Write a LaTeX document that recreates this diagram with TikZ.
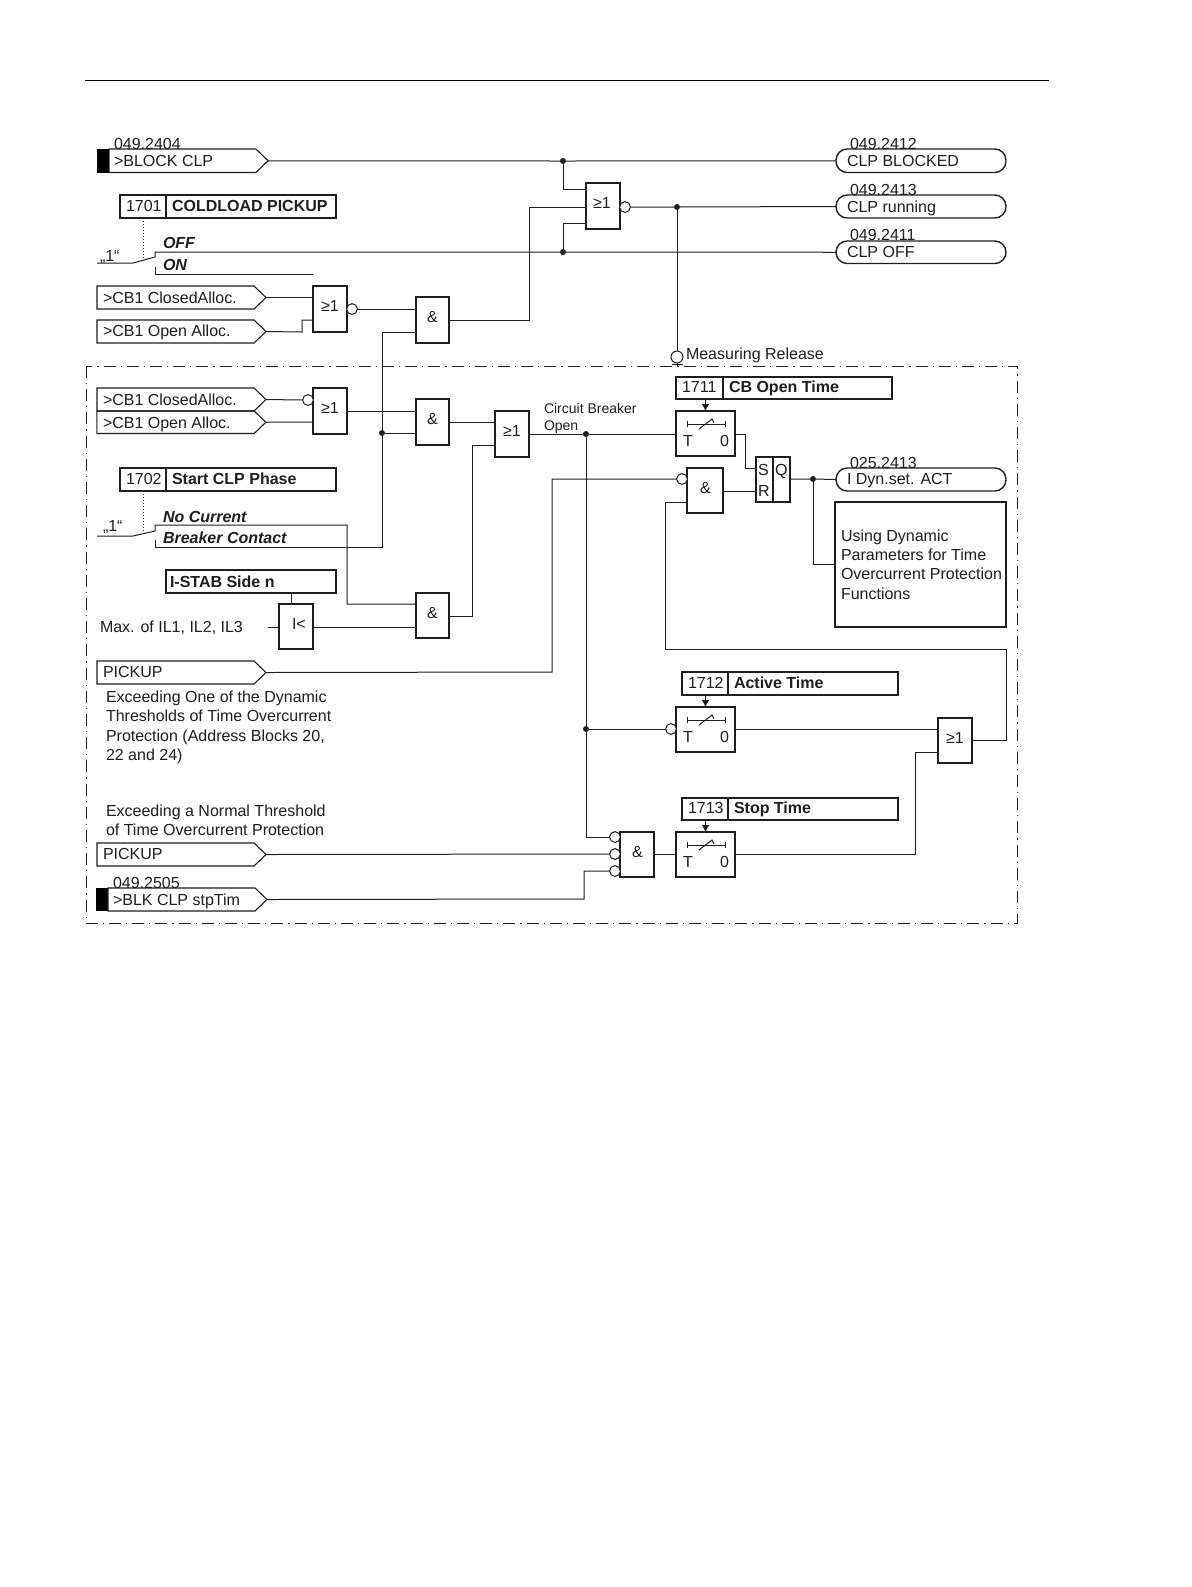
\documentclass[tikz,border=0pt]{standalone}
\usepackage{fontspec}
\setmainfont{Liberation Sans}
\usetikzlibrary{fit,shapes.symbols,arrows.meta}
\definecolor{ink}{HTML}{1E1E1E}
\tikzset{
  wire/.style={draw=ink,line width=0.5pt},
  gate/.style={draw=ink,line width=0.55pt,inner sep=0pt,outer sep=0pt},
  parambox/.style={draw=ink,line width=0.9pt,inner sep=0pt,outer sep=0pt},
  pill/.style={draw=ink,line width=0.7pt,rounded corners=5.6pt,inner sep=0pt,outer sep=0pt},
  inpt/.style={signal,signal to=east,signal from=nowhere,signal pointer angle=88,draw=ink,line width=0.55pt,inner sep=0pt,outer sep=0pt},
  txt/.style={anchor=base west,inner sep=0pt,outer sep=0pt,text=ink,font=\fontsize{8}{9.65}\selectfont},
  blocktxt/.style={anchor=north west,align=left,inner sep=0pt,outer sep=0pt,text=ink,font=\fontsize{8}{9.65}\selectfont},
  small/.style={txt,font=\fontsize{7}{8.4}\selectfont},
  boldtxt/.style={txt,font=\fontsize{8}{9.65}\selectfont\bfseries},
  bitxt/.style={txt,font=\fontsize{8}{9.65}\selectfont\bfseries\itshape},
  dot/.style={circle,fill=ink,inner sep=0pt,outer sep=0pt,minimum size=3pt},
  invc/.style={circle,draw=ink,fill=white,line width=0.5pt,inner sep=0pt,outer sep=0pt,minimum size=5.4pt},
  border/.style={draw=ink,line width=0.5pt,dash pattern=on 6pt off 2.5pt on 0.6pt off 2.5pt},
  dotline/.style={draw=ink,line width=0.5pt,densely dotted},
  arr/.style={draw=ink,line width=0.6pt,-{Latex[length=3.5pt,width=4pt]}},
}
% name, x1, y1, x2, y2, label, dx
\newcommand{\gatebox}[7]{\node[gate,fit={(#2,#3)(#4,#5)}] (#1) {};\node[txt] (#1-t) at ({#2+#7},{#3+25}) {#6};}
% name, x0, xtip, ytop, ybot
\newcommand{\inputbox}[5]{\node[inpt,minimum width={(#3-#2)*0.5pt},minimum height={(#5-#4)*0.5pt}] (#1) at ({(#2+#3)/2-6},{(#4+#5)/2}) {};}
% name, x1, xdiv, x2, y1, y2, number, title
\newcommand{\parambox}[8]{\node[parambox,fit={(#2,#5)(#3,#6)}] (#1n) {};\node[parambox,fit={(#3,#5)(#4,#6)}] (#1t) {};\node[txt] (#1a) at ({#2+6},{#6-7}) {#7};\node[boldtxt] (#1b) at ({#3+6},{#6-7}) {#8};}
% name, x, y
\newcommand{\timerbox}[3]{\node[gate,fit={(#2,#3)({#2+59},{#3+45})}] (#1) {};
  \draw[wire] ({#2+11},{#3+13}) -- ({#2+49},{#3+13});
  \draw[wire] ({#2+11},{#3+10}) -- ({#2+11},{#3+16});
  \draw[wire] ({#2+49},{#3+10}) -- ({#2+49},{#3+16});
  \draw[wire] ({#2+23},{#3+18}) -- ({#2+36},{#3+8}) -- ({#2+38},{#3+12});
  \node[txt] (#1-T) at ({#2+7},{#3+35}) {T};
  \node[txt] (#1-0) at ({#2+44},{#3+35}) {0};}
\begin{document}
\begin{tikzpicture}[x=0.5pt,y=-0.5pt]
\useasboundingbox (0,0) rectangle (1191,1587);
\fill[white] (0,0) rectangle (1191,1587);
% top rule
\coordinate (ruleL) at (85,80);\coordinate (ruleR) at (1049,80);
\draw[draw=black,line width=0.5pt] (ruleL) -- (ruleR);
% dashed frame
\coordinate (frA) at (86,366);\coordinate (frB) at (1017,923);
\draw[border] (frA) rectangle (frB);
% inputs
\fill[black] (97,149) rectangle (109,172.5);
\inputbox{inBlock}{109}{268}{149}{172.5}
\node[txt] (lbA) at (114,149) {049.2404};
\node[txt] (txA) at (114,166) {>BLOCK CLP};
\inputbox{inCa}{97}{266}{286}{309}
\node[txt] (txB) at (103,303) {>CB1 ClosedAlloc.};
\inputbox{inOa}{97}{266}{320}{343}
\node[txt] (txC) at (103,336) {>CB1 Open Alloc.};
\inputbox{inCb}{97}{266}{388}{411}
\node[txt] (txD) at (103,405) {>CB1 ClosedAlloc.};
\inputbox{inOb}{97}{266}{411}{433.5}
\node[txt] (txE) at (103,428) {>CB1 Open Alloc.};
\inputbox{inPa}{97}{266}{661}{684}
\node[txt] (txF) at (103,677) {PICKUP};
\inputbox{inPb}{97}{266}{843}{866}
\node[txt] (txG) at (103,859) {PICKUP};
\fill[black] (96,888) rectangle (108,911);
\inputbox{inBlk}{108}{267}{888}{911}
\node[txt] (lbB) at (113,888) {049.2505};
\node[txt] (txH) at (113,905) {>BLK CLP stpTim};
% outputs
\node[pill,fit={(836,149)(1006,172.5)}] (outA) {};
\node[txt] (lbC) at (850,149) {049.2412};
\node[txt] (txI) at (847,166) {CLP BLOCKED};
\node[pill,fit={(836,195)(1006,218)}] (outB) {};
\node[txt] (lbD) at (850,195) {049.2413};
\node[txt] (txJ) at (847,212) {CLP running};
\node[pill,fit={(836,241)(1006,263.5)}] (outC) {};
\node[txt] (lbE) at (850,240) {049.2411};
\node[txt] (txK) at (847,257) {CLP OFF};
\node[pill,fit={(836,468)(1006,491)}] (outD) {};
\node[txt] (lbF) at (850,468) {025.2413};
\node[txt] (txL) at (847,484) {I Dyn.set. ACT};
% note box
\node[parambox,line width=0.8pt,fit={(835,502)(1006,627)}] (note) {};
\node[blocktxt] (noteT) at (841,529.5) {Using Dynamic\\Parameters for Time\\Overcurrent Protection\\Functions};
% parameter boxes
\parambox{pa}{120}{166}{336}{195}{218}{1701}{COLDLOAD PICKUP}
\parambox{pb}{120}{166}{336}{468}{491}{1702}{Start CLP Phase}
\parambox{pc}{676}{723}{892}{377}{399}{1711}{CB Open Time}
\parambox{pd}{682}{728}{898}{672}{695}{1712}{Active Time}
\parambox{pe}{682}{728}{898}{798}{820}{1713}{Stop Time}
\node[parambox,fit={(166,570)(336,593)}] (pf) {};
\node[boldtxt] (pfT) at (170,587) {I-STAB Side n};
% gates
\gatebox{gA}{586}{183}{620}{229}{≥1}{7}
\gatebox{gB}{313}{286}{347}{332}{≥1}{8}
\gatebox{gC}{416}{297}{449}{343}{\&}{11}
\gatebox{gD}{313}{388}{347}{434}{≥1}{8}
\gatebox{gE}{416}{399}{449}{445}{\&}{11}
\gatebox{gF}{495}{411}{529}{457}{≥1}{8}
\gatebox{gG}{416}{593}{449}{638}{\&}{11}
\gatebox{gH}{687}{468}{723}{513}{\&}{13}
\gatebox{gI}{938}{718}{972}{763}{≥1}{8}
\gatebox{gJ}{620}{832}{654}{877}{\&}{12}
\gatebox{gK}{279}{604}{313}{649}{I<}{13}
% SR flip-flop
\node[gate,fit={(756,457)(773,502)}] (srL) {};
\node[gate,fit={(773,457)(790,502)}] (srR) {};
\node[txt] (srS) at (758,475) {S};
\node[txt] (srQ) at (775,475) {Q};
\node[txt] (srT) at (758,496) {R};
% timers
\timerbox{tA}{676}{411}
\timerbox{tB}{676}{707}
\timerbox{tC}{676}{832}
% other texts
\node[bitxt] (off) at (163,248) {OFF};
\node[bitxt] (on) at (163,270) {ON};
\node[bitxt] (nc) at (163,522) {No Current};
\node[bitxt] (bc) at (163,543) {Breaker Contact};
\node[txt] (one1) at (100,261) {„1“};
\node[txt] (one2) at (103,531) {„1“};
\node[txt] (maxT) at (100,632) {Max. of IL1, IL2, IL3};
\node[blocktxt] (dynT) at (106,691) {Exceeding One of the Dynamic\\Thresholds of Time Overcurrent\\Protection (Address Blocks 20,\\22 and 24)};
\node[blocktxt] (normT) at (106,804.5) {Exceeding a Normal Threshold\\of Time Overcurrent Protection};
\node[txt] (relT) at (686,359) {Measuring Release};
\node[small] (cbA) at (544,413) {Circuit Breaker};
\node[small] (cbB) at (544,430) {Open};
% junctions
\node[dot] (jA) at (563,161) {};
\node[dot] (jB) at (563,252) {};
\node[dot] (jC) at (677,207) {};
\node[dot] (jD) at (382,433) {};
\node[dot] (jE) at (586,434) {};
\node[dot] (jF) at (586,729) {};
\node[dot] (jG) at (813,479) {};
% inversion circles
\node[invc] (cA) at (625,207) {};
\node[invc] (cB) at (352,309) {};
\node[invc] (cC) at (308,400) {};
\node[invc] (cD) at (682,479) {};
\node[invc] (cE) at (671,729) {};
\node[invc] (cF) at (615,837) {};
\node[invc] (cG) at (615,854) {};
\node[invc] (cH) at (615,871) {};
\node[invc,minimum size=6pt] (cR) at (677,357) {};
% ports and bends
\coordinate (pA1) at (586,189);\coordinate (pA2) at (586,207);\coordinate (pA3) at (586,223);
\coordinate (oC) at (449,320);\coordinate (bA) at (529,320);\coordinate (bB) at (529,207);
\coordinate (swA0) at (97,263);\coordinate (swA1) at (133,263);\coordinate (swA2) at (155,257);\coordinate (swA3) at (155,252);
\coordinate (swA4) at (155,267);\coordinate (swA5) at (155,274);\coordinate (swA6) at (313,274);\coordinate (swAd) at (143,259);
\coordinate (pB2a) at (302,332);\coordinate (pB2b) at (302,320);\coordinate (pB2) at (313,320);\coordinate (pB1) at (313,297.5);
\coordinate (pC1) at (416,309);\coordinate (pC2) at (416,332);\coordinate (bC) at (382,332);
\coordinate (swB0) at (97,536);\coordinate (swB1) at (133,536);\coordinate (swB2) at (155,531);\coordinate (swB3) at (155,525);
\coordinate (swB4) at (155,540);\coordinate (swB5) at (155,547);\coordinate (bD) at (382,547);\coordinate (swBd) at (143,532);
\coordinate (bE) at (347,525);\coordinate (pG1) at (416,604);\coordinate (bE2) at (347,604);
\coordinate (pD2) at (313,422);\coordinate (oD) at (347,411);\coordinate (pE1) at (416,411);\coordinate (pE2) at (416,433);
\coordinate (oE) at (449,422);\coordinate (pF1) at (495,422);\coordinate (pF2) at (495,445);\coordinate (bF) at (472,445);
\coordinate (oG) at (449,616);\coordinate (bG) at (472,616);\coordinate (oF) at (529,434);\coordinate (pTA) at (676,434);
\coordinate (oTA) at (735,434);\coordinate (bH) at (745,434);\coordinate (bI) at (745,468);\coordinate (pS) at (756,468);
\coordinate (oH) at (723,491);\coordinate (pR) at (756,491);\coordinate (oQ) at (790,479);
\coordinate (bJ) at (813,564);\coordinate (noteL) at (835,564);
\coordinate (kA) at (268,627);\coordinate (pKi) at (279,627);\coordinate (oK) at (313,627);\coordinate (pG2) at (416,627);
\coordinate (sK) at (291,593);\coordinate (sKb) at (291,604);
\coordinate (bP) at (552,672);\coordinate (bQ) at (552,479);
\coordinate (pH2) at (687,502);\coordinate (bR) at (665,502);\coordinate (bS) at (665,649);\coordinate (bT) at (1006,649);\coordinate (bU) at (1006,740);\coordinate (oI) at (972,740);
\coordinate (oTB) at (735,729);\coordinate (pI1) at (938,729);\coordinate (pI2) at (938,752);\coordinate (bV) at (915,752);\coordinate (bW) at (915,854);\coordinate (oTC) at (735,854);
\coordinate (bX) at (586,837);\coordinate (bY) at (584,899);\coordinate (bZ) at (584,871);
\coordinate (oJ) at (654,854);\coordinate (pTC) at (676,854);
\coordinate (rB) at (677,366);\coordinate (rC) at (672,364);\coordinate (rD) at (683,364);
% connectors
\draw[wire] (inBlock.east) -- (jA) -- (outA.west);
\draw[wire] (jA) |- (pA1);
\draw[wire] (jB) |- (pA3);
\draw[wire] (oC) -- (bA) -- (bB) -- (pA2);
\draw[wire] (cA.east) -- (jC) -- (outB.west);
\draw[wire] (jC) -- (cR.north);
\draw[wire] (cR.south) -- (rB);
\draw[wire] (rC) -- (rD);
\draw[wire] (swA0) -- (swA1) -- (swA2);
\draw[wire] (swA2) -- (swA3) -- (jB) -- (outC.west);
\draw[wire] (swA4) -- (swA5) -- (swA6);
\draw[dotline] (pan.south) -- (swAd);
\draw[wire] (inCa.east) -- (pB1);
\draw[wire] (inOa.east) -- (pB2a) -- (pB2b) -- (pB2);
\draw[wire] (cB.east) -- (pC1);
\draw[wire] (pC2) -- (bC) -- (jD) -- (bD) -- (swB5) -- (swB4);
\draw[wire] (inCb.east) -- (cC.west);
\draw[wire] (inOb.east) -- (pD2);
\draw[wire] (oD) -- (pE1);
\draw[wire] (jD) -- (pE2);
\draw[wire] (oE) -- (pF1);
\draw[wire] (oG) -- (bG) -- (bF) -- (pF2);
\draw[wire] (swB0) -- (swB1) -- (swB2) -- (swB3) -- (bE) -- (bE2) -- (pG1);
\draw[dotline] (pbn.south) -- (swBd);
\draw[wire] (kA) -- (pKi);
\draw[wire] (sK) -- (sKb);
\draw[wire] (oK) -- (pG2);
\draw[wire] (oF) -- (jE) -- (pTA);
\draw[wire] (jE) -- (jF) -- (bX) -- (cF.west);
\draw[wire] (jF) -- (cE.west);
\draw[wire] (oTA) -- (bH) -- (bI) -- (pS);
\draw[wire] (oH) -- (pR);
\draw[wire] (oQ) -- (jG) -- (outD.west);
\draw[wire] (jG) -- (bJ) -- (noteL);
\draw[wire] (inPa.east) -- (bP) -- (bQ) -- (cD.west);
\draw[wire] (pH2) -- (bR) -- (bS) -- (bT) -- (bU) -- (oI);
\draw[wire] (oTB) -- (pI1);
\draw[wire] (pI2) -- (bV) -- (bW) -- (oTC);
\draw[wire] (inPb.east) -- (cG.west);
\draw[wire] (inBlk.east) -- (bY) -- (bZ) -- (cH.west);
\draw[wire] (oJ) -- (pTC);
\draw[arr] (tA.north |- pct.south) -- (tA.north);
\draw[arr] (tB.north |- pdt.south) -- (tB.north);
\draw[arr] (tC.north |- pet.south) -- (tC.north);
\end{tikzpicture}
\end{document}
